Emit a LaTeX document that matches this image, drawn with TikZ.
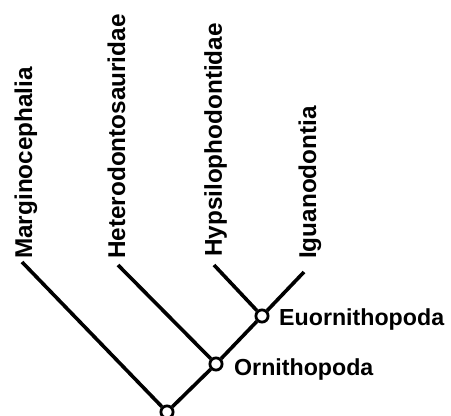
\documentclass[tikz,border=0pt]{standalone}
\usepackage{fontspec}
\setmainfont{Liberation Sans}
\begin{document}
\begin{tikzpicture}[x=1pt,y=-1pt,
  branch/.style={line width=3.6pt},
  clade/.style={circle,draw,line width=2.8pt,fill=white,minimum size=12.2pt,inner sep=0pt},
  taxon/.style={rotate=90,anchor=base west,inner sep=0pt,font=\fontsize{24.3}{28}\selectfont\bfseries},
  group/.style={anchor=base west,inner sep=0pt,font=\fontsize{23.2}{28}\selectfont\bfseries}]
\useasboundingbox (0,0) rectangle (451,416);
% leaf ends
\coordinate (tM) at (22,262);
\coordinate (tH) at (118,265);
\coordinate (tY) at (214,265);
\coordinate (tI) at (304,272);
% taxon labels
\node[taxon] (lM) at (32,259) {Marginocephalia};
\node[taxon] (lH) at (125,259) {Heterodontosauridae};
\node[taxon] (lY) at (222,257) {Hypsilophodontidae};
\node[taxon] (lI) at (316,259) {Iguanodontia};
% clade nodes
\node[clade] (root) at (167,412) {};
\node[clade] (orn) at (216,364) {};
\node[clade] (euo) at (262,316) {};
% branches
\draw[branch] (root) -- (tM);
\draw[branch] (root) -- (orn);
\draw[branch] (orn) -- (tH);
\draw[branch] (orn) -- (euo);
\draw[branch] (euo) -- (tY);
\draw[branch] (euo) -- (tI);
% clade labels
\node[group] (lE) at (279,325) {Euornithopoda};
\node[group] (lO) at (234,375) {Ornithopoda};
\end{tikzpicture}
\end{document}
